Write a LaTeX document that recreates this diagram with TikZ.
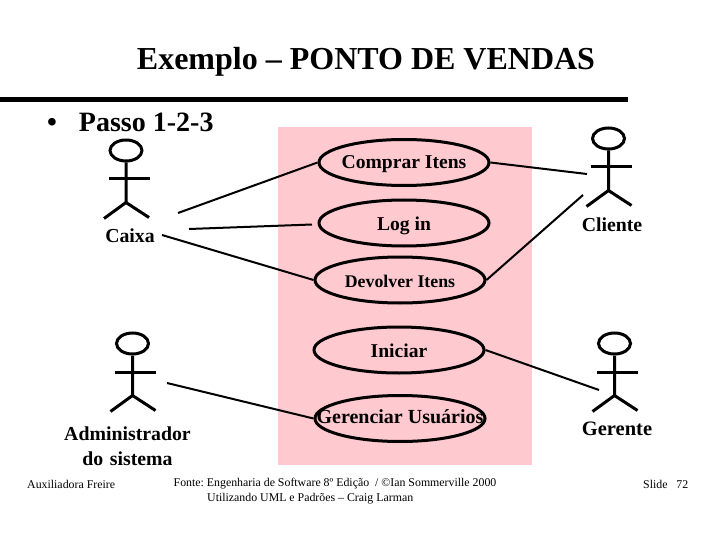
\documentclass[tikz,border=0pt]{standalone}
\usepackage{fontspec}
\setmainfont{Liberation Serif}
\newcommand{\fsz}[1]{\fontsize{#1}{#1}\selectfont}
\newcommand{\uctext}[2][0]{\makebox[0pt]{\raisebox{#1pt}{#2}}}
\newcommand{\actorfig}[2]{%
  \node[headshape] (#1) at (#2) {};
  \draw[actorline] (#1.south) -- ++(0,40) coordinate (#1hip) -- ++(-22,16) coordinate (#1ll);
  \draw[actorline] (#1hip) -- ++(23,15) coordinate (#1rl);
  \draw[actorline] ([xshift=-17.5pt,yshift=-16.5pt]#1.south) -- ++(41,0);
}
\tikzset{
  x=1pt,y=-1pt,
  headshape/.style={draw,ellipse,line width=3pt,minimum width=32pt,minimum height=21pt,inner sep=0pt},
  actorline/.style={line width=3pt,line cap=butt},
  usecase/.style={draw,ellipse,line width=3pt,minimum width=170pt,minimum height=46pt,inner sep=0pt,text height=0pt,text depth=0pt,font=\fsz{19.6}\bfseries},
  assoc/.style={line width=2pt},
  actorlabel/.style={font=\fsz{19.8}\bfseries,inner sep=0pt,align=center},
  foot/.style={font=\fsz{11.85}\frenchspacing,inner sep=0pt,align=center},
}
\usetikzlibrary{shapes.geometric}
\begin{document}
\begin{tikzpicture}
\useasboundingbox (0,0) rectangle (720,540);
\fill[white] (0,0) rectangle (720,540);
\node[inner sep=0pt,font=\bfseries\fsz{32}] (title) at (366,62) {Exemplo – PONTO DE VENDAS};
\fill[black] (0,97.5) rectangle (628,102.5);
\node[inner sep=0pt,anchor=west,font=\bfseries\fsz{28}] (bullet) at (47,122) {•\hspace{22pt}Passo 1-2-3};
\fill[fill={rgb,255:red,255;green,201;blue,208}] (278,127) rectangle (532,465);
\node[usecase] (comprar) at (404,162.5) {\uctext[-6]{Comprar Itens}};
\node[usecase] (login) at (404,223) {\uctext[-7]{Log in}};
\node[usecase] (devolver) at (400,280) {\uctext[-7]{\fsz{17.8}Devolver Itens}};
\node[usecase] (iniciar) at (399,350) {\uctext[-7]{Iniciar}};
\node[usecase] (gerenciar) at (400,418.5) {\uctext[-5]{\fsz{20}Gerenciar Usuários}};
\actorfig{caixa}{126,150.5}
\actorfig{cliente}{608.5,138.5}
\actorfig{admin}{132.5,343.5}
\actorfig{gerente}{614.5,343.5}
\node[actorlabel] (lcaixa) at (130,236) {Caixa};
\node[actorlabel] (lcliente) at (612,225) {Cliente};
\node[actorlabel,text width=160pt] (ladmin) at (127.5,446) {Administrador\\[5pt]do sistema};
\node[actorlabel] (lgerente) at (617,429) {\fsz{20.5}Gerente};
\node[foot,anchor=west] (fa) at (27,484) {Auxiliadora Freire};
\node[foot] (fb) at (335,484) {Fonte: Engenharia de Software 8º Edição\ \ / ©Ian Sommerville 2000};
\node[foot,anchor=west] (fc) at (207,499) {Utilizando UML e Padrões – Craig Larman};
\node[foot,anchor=west] (fd) at (643,484) {Slide\ \ \ 72};
\coordinate (c1) at (178,213);
\coordinate (c2) at (189,229);
\coordinate (c2b) at (312,224.5);
\coordinate (c3) at (162,235);
\coordinate (c4) at (587,174);
\coordinate (c5) at (583,195);
\coordinate (c6) at (167,383);
\coordinate (c7) at (599,390);
\draw[assoc] (c1) -- (comprar.west);
\draw[assoc] (c2) -- (c2b);
\draw[assoc] (c3) -- (devolver.west);
\draw[assoc] (comprar.east) -- (c4);
\draw[assoc] (devolver.east) -- (c5);
\draw[assoc] (c6) -- (gerenciar.west);
\draw[assoc] (iniciar.east) -- (c7);
\end{tikzpicture}
\end{document}
